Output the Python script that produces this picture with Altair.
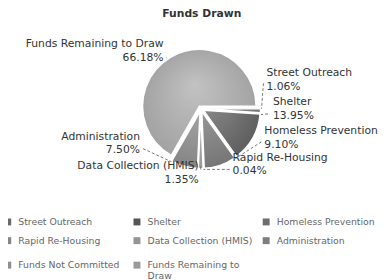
import math
import altair as alt
import pandas as pd

# ---------------- data ----------------
categories = [
    "Street Outreach", "Shelter", "Homeless Prevention", "Rapid Re-Housing",
    "Data Collection (HMIS)", "Administration", "Funds Not Committed",
    "Funds Remaining to Draw",
]
percent = [1.06, 13.95, 9.10, 0.04, 1.35, 7.50, 0.0, 66.18]
percent_text = ["1.06%", "13.95%", "9.10%", "0.04%", "1.35%", "7.50%", "0.00%", "66.18%"]
slice_colors = ["#6a6a6a", "#555555", "#6e6e6e", "#858585", "#949494", "#7e7e7e", "#909090", "#9a9a9a"]

# ---------------- layout (chart coords) ----------------
OX, OY = 4, 28
CX, CY, R, EXPLODE = 201 - OX, 108 - OY, 58, 3

# label nudge relative to slice edge point: dx, dy, align, attach dx, attach dy
label_layout = {
    "Street Outreach": (9, -38, "left", -3, 10),
    "Shelter": (23, -35, "left", -5, 12),
    "Homeless Prevention": (46, -32, "left", -3, 11),
    "Rapid Re-Housing": (30, -8, "left", -3, 12),
    "Data Collection (HMIS)": (-2, 1, "right", 2, 0),
    "Administration": (-46, -27, "right", 3, 12),
    "Funds Remaining to Draw": (-9, -16, "right", 3, 14),
}

total = sum(percent)
rows = []
cum = 0.0
for i, (c, v) in enumerate(zip(categories, percent)):
    s = cum / total * 360
    cum += v
    e = cum / total * 360
    mid = math.radians((s + e) / 2)
    rows.append(dict(
        category=c, value=v, idx=i, pct=percent_text[i], t0=cum - v, t1=cum,
        start=s, end=e,
        ax=CX + EXPLODE * math.cos(mid), ay=CY + EXPLODE * math.sin(mid),
        ex=CX + R * math.cos(mid), ey=CY + R * math.sin(mid),
    ))
pie_df = pd.DataFrame(rows)

text_rows, line_rows = [], []
for r in rows:
    if r["category"] not in label_layout or r["value"] <= 0:
        continue
    dx, dy, align, adx, ady = label_layout[r["category"]]
    lx, ly = r["ex"] + dx, r["ey"] + dy
    text_rows.append(dict(t=r["category"], x=lx, y=ly, align=align))
    text_rows.append(dict(t=r["pct"], x=lx, y=ly + 14, align=align))
    px, py = lx + adx, ly + ady
    ang = math.degrees(math.atan2(py - CY, px - CX)) % 360
    s, e = r["start"], r["end"]
    if not (s <= ang <= e):
        ds = min(abs(ang - s), 360 - abs(ang - s))
        de = min(abs(ang - e), 360 - abs(ang - e))
        ang = s if ds <= de else e
    a = math.radians(ang)
    line_rows.append(dict(x1=px, y1=py,
                          x2=r["ax"] + (R + 1) * math.cos(a),
                          y2=r["ay"] + (R + 1) * math.sin(a)))
text_df = pd.DataFrame(text_rows)
line_df = pd.DataFrame(line_rows)

theta_scale = alt.Scale(domain=[0, total], range=[math.pi / 2, 5 * math.pi / 2])

legend = alt.Legend(
    title=None, orient="none", legendX=-5, legendY=185, columns=3, direction="horizontal",
    symbolType="square", symbolSize=50, symbolStrokeWidth=0,
    labelFont="DejaVu Sans", labelFontSize=9.5, labelColor="#666",
    gridAlign="all", columnPadding=9, rowPadding=3, labelLimit=125,
    labelOffset=6, padding=0,
    labelExpr="datum.label == 'Funds Remaining to Draw' ? ['Funds Remaining to', 'Draw'] : datum.label",
)

pie = alt.Chart(pie_df).mark_arc(outerRadius=R, stroke="white", strokeWidth=1.5).encode(
    theta=alt.Theta("t0:Q", scale=theta_scale),
    theta2="t1:Q",
    color=alt.Color("category:N", scale=alt.Scale(domain=categories, range=slice_colors), legend=legend),
    x=alt.X("ax:Q", scale=None),
    y=alt.Y("ay:Q", scale=None),
)

shade = alt.Chart(pd.DataFrame({"k": [0]})).mark_arc(
    theta=0, theta2=2 * math.pi, outerRadius=R + 4,
    fill={"gradient": "radial", "x1": 0.45, "y1": 0.3, "r1": 0, "x2": 0.5, "y2": 0.5, "r2": 0.6,
          "stops": [{"offset": 0, "color": "rgba(255,255,255,0.4)"},
                    {"offset": 1, "color": "rgba(255,255,255,0)"}]},
).encode(x=alt.value(CX), y=alt.value(CY))

lines = alt.Chart(line_df).mark_rule(color="#555", strokeWidth=0.8, strokeDash=[3, 2]).encode(
    x=alt.X("x1:Q", scale=None), y=alt.Y("y1:Q", scale=None),
    x2="x2:Q", y2="y2:Q",
)

def text_layer(al):
    return alt.Chart(text_df[text_df["align"] == al]).mark_text(
        align=al, baseline="middle", font="DejaVu Sans", fontSize=11, color="#333",
    ).encode(x=alt.X("x:Q", scale=None), y=alt.Y("y:Q", scale=None), text="t:N")

chart = alt.layer(pie, shade, lines, text_layer("left"), text_layer("right")).properties(
    width=378, height=252, autosize="none",
    padding={"top": 20, "left": 0, "right": 0, "bottom": 0},
    title=alt.Title("Funds Drawn", font="DejaVu Sans", fontSize=11, fontWeight="bold",
                    color="#333", anchor="middle", offset=12, dx=9),
).configure_view(stroke=None)

chart.save("out.html", embed_options={"renderer": "svg", "actions": False})
